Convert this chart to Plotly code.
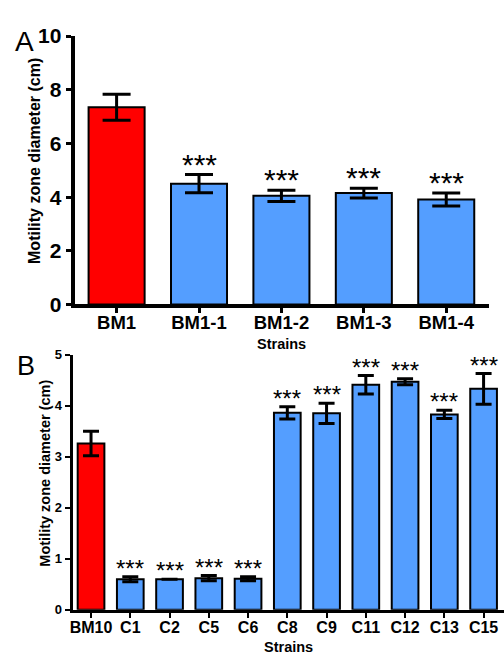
import plotly.graph_objects as go

# Panel A data
a_strains = ["BM1", "BM1-1", "BM1-2", "BM1-3", "BM1-4"]
a_mean = [7.35, 4.50, 4.05, 4.15, 3.91]
a_err = [0.48, 0.34, 0.21, 0.18, 0.24]
a_sig = ["", "***", "***", "***", "***"]
a_yticks = [0, 2, 4, 6, 8, 10]

# Panel B data
b_strains = ["BM10", "C1", "C2", "C5", "C6", "C8", "C9", "C11", "C12", "C13", "C15"]
b_mean = [3.26, 0.60, 0.60, 0.62, 0.61, 3.86, 3.85, 4.41, 4.47, 3.83, 4.33]
b_err = [0.24, 0.05, 0.0, 0.05, 0.04, 0.12, 0.20, 0.18, 0.06, 0.08, 0.30]
b_sig = ["", "***", "***", "***", "***", "***", "***", "***", "***", "***", "***"]
b_yticks = [0, 1, 2, 3, 4, 5]

RED = "#FF0000"
BLUE = "#549EFF"
FONT = "Liberation Sans, Arial, sans-serif"
W, H = 504, 663

def colors(n):
    return [RED] + [BLUE] * (n - 1)

fig = go.Figure()
fig.add_trace(go.Bar(
    x=a_strains, y=a_mean, width=0.68,
    marker=dict(color=colors(len(a_strains)), line=dict(color="black", width=2)),
    error_y=dict(type="data", array=a_err, visible=True, color="black", thickness=3, width=14),
    xaxis="x", yaxis="y", showlegend=False,
))
fig.add_trace(go.Bar(
    x=b_strains, y=b_mean, width=0.68,
    marker=dict(color=colors(len(b_strains)), line=dict(color="black", width=2)),
    error_y=dict(type="data", array=b_err, visible=True, color="black", thickness=3, width=8),
    xaxis="x2", yaxis="y2", showlegend=False,
))

A_STAR = 30
B_STAR = 24
ann = []
for s, m, e, t in zip(a_strains, a_mean, a_err, a_sig):
    if t:
        ann.append(dict(x=s, y=m + e, xref="x", yref="y", text=t, showarrow=False,
                        yanchor="bottom", yshift=-8,
                        font=dict(family=FONT, size=A_STAR, color="black")))
for s, m, e, t in zip(b_strains, b_mean, b_err, b_sig):
    if t:
        ann.append(dict(x=s, y=m + e, xref="x2", yref="y2", text=t, showarrow=False,
                        yanchor="bottom", yshift=-7,
                        font=dict(family=FONT, size=B_STAR, color="black")))

def px_x(p):
    return p / W

def px_y(p):
    return 1 - p / H

ann += [
    dict(x=px_x(10), y=px_y(12), xref="paper", yref="paper", text="A", showarrow=False,
         xanchor="left", yanchor="top", font=dict(family=FONT, size=28, color="black")),
    dict(x=px_x(12), y=px_y(349), xref="paper", yref="paper", text="B", showarrow=False,
         xanchor="left", yanchor="top", font=dict(family=FONT, size=27, color="black")),
    dict(x=px_x(280), y=px_y(343.5), xref="paper", yref="paper", text="Strains", showarrow=False,
         xanchor="center", yanchor="middle", font=dict(family=FONT, size=14.5, color="black", weight="bold")),
    dict(x=px_x(287), y=0, xref="paper", yref="paper", text="Strains", showarrow=False,
         xanchor="center", yanchor="bottom", borderpad=0, yshift=-4,
         font=dict(family=FONT, size=14.5, color="black", weight="bold")),
    dict(x=px_x(31.5), y=px_y(154), xref="paper", yref="paper", text="Motility zone diameter (cm)",
         showarrow=False, textangle=-90, xanchor="center", yanchor="middle",
         font=dict(family=FONT, size=16, color="black", weight="bold")),
    dict(x=px_x(42.5), y=px_y(478), xref="paper", yref="paper", text="Motility zone diameter (cm)",
         showarrow=False, textangle=-90, xanchor="center", yanchor="middle",
         font=dict(family=FONT, size=14.5, color="black", weight="bold")),
]

axis_common = dict(showgrid=False, zeroline=False, showline=True, linecolor="black",
                   ticks="outside", tickcolor="black", fixedrange=True)

fig.update_layout(
    width=W, height=H, margin=dict(l=0, r=0, t=0, b=0),
    paper_bgcolor="white", plot_bgcolor="white",
    bargap=0.3,
    xaxis=dict(domain=[px_x(72), px_x(489)], range=[-0.51, 4.52], type="category",
               anchor="y", linewidth=4, ticklen=5, tickwidth=3, ticklabelstandoff=-7,
               tickfont=dict(family=FONT, size=18.5, color="black", weight="bold"), **axis_common),
    yaxis=dict(domain=[px_y(303), px_y(25)], range=[0, 10], tickvals=a_yticks, anchor="x",
               linewidth=4, ticklen=5, tickwidth=3,
               tickfont=dict(family=FONT, size=21, color="black", weight="bold"), **axis_common),
    xaxis2=dict(domain=[px_x(70), 1.0], range=[-0.47, 10.52], type="category",
                anchor="y2", linewidth=3, ticklen=5, tickwidth=2, ticklabelstandoff=-4,
                tickfont=dict(family=FONT, size=16, color="black", weight="bold"), **axis_common),
    yaxis2=dict(domain=[px_y(619.3), px_y(355)], range=[0, 5], tickvals=b_yticks, anchor="x2",
                linewidth=3, ticklen=5, tickwidth=2,
                tickfont=dict(family=FONT, size=13, color="black", weight="bold"), **axis_common),
    annotations=ann,
)

fig.write_html("out.html")
